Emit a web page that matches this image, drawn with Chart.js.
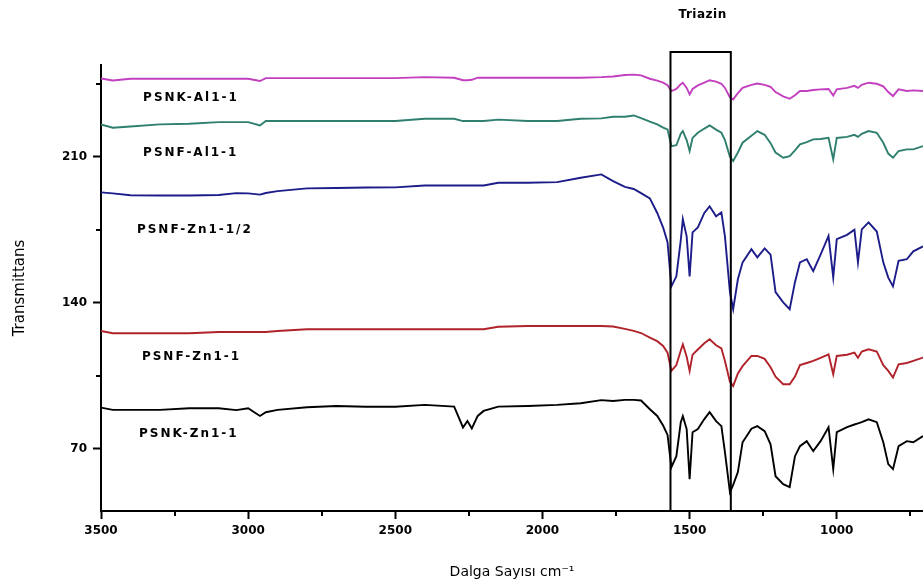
<!DOCTYPE html>
<html>
<head>
<meta charset="utf-8">
<script src="https://cdn.jsdelivr.net/npm/chart.js@4.4.1/dist/chart.umd.min.js"></script>
<style>
  html, body { margin: 0; padding: 0; background: #fff; overflow: hidden; }
  #chart { display: block; }
</style>
</head>
<body>
<canvas id="chart" width="923" height="588"></canvas>
<script>
// wavenumbers (cm-1), shared by every spectrum
var wavenumbers = [
  3500, 3460, 3400, 3300, 3200, 3100, 3040, 3000, 2960, 2940, 2900, 2800, 2700, 2600, 2500, 2400, 2300,
  2270, 2255, 2240, 2220, 2200, 2150, 2050, 1950, 1870, 1800, 1760, 1720, 1690, 1665, 1635, 1610, 1590, 1575,
  1562, 1545, 1530, 1523, 1510, 1500, 1490, 1472, 1450, 1432, 1410, 1392, 1380, 1363, 1352, 1336, 1320,
  1290, 1270, 1245, 1225, 1208, 1182, 1160, 1142, 1125, 1102, 1080, 1055, 1028, 1012, 1000, 965, 940,
  928, 915, 892, 864, 842, 825, 809, 790, 762, 740, 707
];

var psnkAl = [
  247.5, 246.6, 247.4, 247.4, 247.4, 247.4, 247.4, 247.4, 246.3, 247.7, 247.7, 247.7, 247.7, 247.7, 247.7, 248.2, 247.9,
  246.7, 246.7, 246.9, 247.9, 247.9, 247.9, 247.9, 247.9, 247.9, 248.2, 248.5, 249.2, 249.4, 249, 247.4, 246.5, 245.5, 244.3,
  241.5, 242.5, 244.8, 245.5, 243, 239.9, 242.5, 244.2, 245.5, 246.7, 246, 245, 243, 238.5, 237.5, 240.5, 243,
  244.5, 245.1, 244.5, 243.5, 241, 239, 237.8, 239.5, 241.5, 241.5, 242, 242.3, 242.5, 239.4, 242.3, 243, 244,
  243, 244.5, 245.5, 245, 243.8, 241, 239.1, 242.3, 241.5, 241.8, 241.5
];

var psnfAl = [
  225.5, 223.9, 224.5, 225.5, 225.8, 226.6, 226.6, 226.6, 225, 227.1, 227.1, 227.1, 227.1, 227.1, 227.1, 228.2, 228.2,
  227.1, 227.1, 227.1, 227.1, 227.1, 227.8, 227.1, 227.1, 228.2, 228.4, 229.2, 229.2, 229.8, 228.5, 226.8, 225.5, 224, 223.1,
  215.1, 215.5, 221, 222.3, 218, 212.7, 219, 221.5, 223.5, 225, 223, 221.5, 218, 210, 207.9, 212, 216.7,
  220, 222.3, 220.5, 216.5, 212, 209.5, 210.3, 213, 215.9, 217, 218.3, 218.5, 219.1, 208.7, 219, 219.5, 220.5,
  219.5, 221, 222.3, 221.5, 216.7, 211.5, 209.5, 212.7, 213.5, 213.5, 215.1
];

var psnfZnHalf = [
  192.9, 192.4, 191.5, 191.4, 191.4, 191.6, 192.5, 192.4, 191.8, 192.6, 193.5, 194.8, 195, 195.2, 195.3, 196.2, 196.2,
  196.2, 196.2, 196.2, 196.2, 196.2, 197.5, 197.5, 197.8, 199.9, 201.5, 198.3, 195.5, 194.5, 192.5, 190, 183, 176, 169,
  147.8, 152.6, 170, 180, 171.8, 152.6, 173.7, 176.1, 183, 186.2, 181.4, 183.3, 171.8, 145, 136.8, 151.2, 159.3,
  165.6, 161.7, 166, 163, 145, 140.1, 136.8, 149.8, 159.3, 160.8, 155.1, 163, 172, 152.1, 170.4, 172.5, 175,
  159.3, 175.1, 178.5, 174.1, 159.3, 152, 147.8, 160, 160.8, 164.6, 167
];

var psnfZn = [
  126.4, 125.3, 125.3, 125.3, 125.3, 125.9, 125.9, 125.9, 125.9, 125.9, 126.4, 127.2, 127.2, 127.2, 127.2, 127.2, 127.2,
  127.2, 127.2, 127.2, 127.2, 127.2, 128.4, 128.8, 128.8, 128.8, 128.8, 128.5, 127.4, 126.4, 125.4, 123.2, 121.5, 119.2, 116,
  107.2, 110, 117, 120, 114, 107.2, 115, 117.5, 120.5, 122.4, 119.5, 118, 112, 102, 100, 106, 109.5,
  114.4, 114.4, 113, 109, 104.5, 100.8, 100.8, 104.5, 110, 111, 112, 113.5, 115.2, 105.6, 114.4, 115, 116,
  113.5, 116.5, 117.6, 116.5, 110, 107.2, 104, 110.4, 111, 112, 113.6
];

var psnkZn = [
  89.6, 88.5, 88.5, 88.5, 89.3, 89.3, 88.4, 89.3, 85.6, 87.4, 88.5, 89.8, 90.4, 90, 90, 90.9, 90.1,
  80.1, 83.2, 79.6, 85.6, 88, 90.1, 90.4, 90.9, 91.7, 93.2, 92.8, 93.3, 93.3, 93, 88.8, 85.6, 81, 76.5,
  61, 66.3, 82.6, 85.5, 79.3, 55.3, 77.8, 79.3, 84.1, 87.4, 83.1, 80.7, 68.2, 49, 52.5, 58.7, 73,
  79.5, 80.7, 78.3, 72, 56.7, 52.9, 51.5, 66.3, 71.1, 73.5, 68.7, 73.5, 80.2, 60.1, 77.8, 80.2, 81.5,
  82, 82.6, 84, 82.6, 73, 62.5, 60.1, 71.1, 73.5, 73, 75.9
];

var seriesNames = ['PSNK-Al1-1', 'PSNF-Al1-1', 'PSNF-Zn1-1/2', 'PSNF-Zn1-1', 'PSNK-Zn1-1'];
var seriesColors = ['#c23fc0', '#2f7f6f', '#1c1c8a', '#b0232a', '#000000'];

var xTicks = [3500, 3250, 3000, 2750, 2500, 2250, 2000, 1750, 1500, 1250, 1000, 750];
var xTickLabels = [3500, 3000, 2500, 2000, 1500, 1000];
var yTicks = [70, 105, 140, 175, 210, 245];
var yTickLabels = [70, 140, 210];

var triazinBand = [1565, 1360];

function points(values) {
  return wavenumbers.map(function (w, i) { return { x: w, y: values[i] }; });
}

var allSeries = [psnkAl, psnfAl, psnfZnHalf, psnfZn, psnkZn];

// where each curve name is written (wavenumber, transmittance)
var nameAt = [[3357, 238], [3357, 212], [3378, 175], [3361, 114], [3371, 77]];

var extras = {
  id: 'extras',
  afterDraw: function (chart) {
    var ctx = chart.ctx;
    var xs = chart.scales.x, ys = chart.scales.y;
    ctx.save();

    // minor ticks
    ctx.strokeStyle = '#000';
    ctx.lineWidth = 2;
    xTicks.forEach(function (v) {
      if (xTickLabels.indexOf(v) >= 0) return;
      var px = Math.round(xs.getPixelForValue(v));
      ctx.beginPath();
      ctx.moveTo(px, ys.bottom);
      ctx.lineTo(px, ys.bottom + 5);
      ctx.stroke();
    });
    yTicks.forEach(function (v) {
      if (yTickLabels.indexOf(v) >= 0) return;
      var py = Math.round(ys.getPixelForValue(v));
      ctx.beginPath();
      ctx.moveTo(xs.left, py);
      ctx.lineTo(xs.left - 5, py);
      ctx.stroke();
    });

    // triazin box
    var l = xs.getPixelForValue(triazinBand[0]);
    var r = xs.getPixelForValue(triazinBand[1]);
    var top = ys.top - 13;
    ctx.lineWidth = 2;
    ctx.beginPath();
    ctx.moveTo(l, ys.bottom);
    ctx.lineTo(l, top);
    ctx.lineTo(r, top);
    ctx.lineTo(r, ys.bottom);
    ctx.stroke();

    ctx.fillStyle = '#000';
    ctx.textAlign = 'center';
    ctx.textBaseline = 'middle';
    ctx.font = 'bold 12px "DejaVu Sans"';
    ctx.letterSpacing = '0.5px';
    ctx.fillText('Triazin', (l + r) / 2 + 2, 15);

    // curve names
    ctx.textAlign = 'left';
    ctx.font = 'bold 12px "DejaVu Sans"';
    ctx.letterSpacing = '2px';
    seriesNames.forEach(function (name, i) {
      ctx.fillText(name, xs.getPixelForValue(nameAt[i][0]), ys.getPixelForValue(nameAt[i][1]));
    });
    ctx.restore();
  }
};

var ctx = document.getElementById('chart');
new Chart(ctx, {
  type: 'line',
  data: {
    datasets: allSeries.map(function (s, i) {
      return {
        label: seriesNames[i],
        data: points(s),
        borderColor: seriesColors[i],
        borderWidth: 1.9,
        pointRadius: 0,
        tension: 0,
        fill: false
      };
    })
  },
  options: {
    responsive: false,
    animation: false,
    layout: { padding: { top: 65, right: 0, bottom: 0, left: 0 } },
    plugins: {
      legend: { display: false },
      tooltip: { enabled: false }
    },
    scales: {
      x: {
        type: 'linear',
        reverse: true,
        min: 707,
        max: 3500,
        afterFit: function (scale) { scale.height = 77; },
        afterBuildTicks: function (scale) {
          scale.ticks = xTicks.map(function (v) { return { value: v }; });
        },
        border: { display: true, color: '#000', width: 2 },
        grid: {
          drawOnChartArea: false,
          tickLength: 8,
          tickWidth: 2,
          tickColor: function (c) {
            return c.tick && xTickLabels.indexOf(c.tick.value) >= 0 ? '#000' : 'rgba(0,0,0,0)';
          }
        },
        ticks: {
          autoSkip: false,
          maxRotation: 0,
          padding: 5,
          color: '#000',
          font: { family: 'DejaVu Sans', size: 12, weight: 'bold' },
          callback: function (v) { return xTickLabels.indexOf(v) >= 0 ? String(v) : ''; }
        },
        title: {
          display: true,
          text: 'Dalga Sayısı cm⁻¹',
          color: '#000',
          padding: { top: 0, bottom: 7 },
          font: { family: 'DejaVu Sans', size: 14 }
        }
      },
      y: {
        type: 'linear',
        min: 40,
        max: 254,
        afterFit: function (scale) { scale.width = 101; },
        afterBuildTicks: function (scale) {
          scale.ticks = yTicks.map(function (v) { return { value: v }; });
        },
        border: { display: true, color: '#000', width: 2 },
        grid: {
          drawOnChartArea: false,
          tickLength: 8,
          tickWidth: 2,
          tickColor: function (c) {
            return c.tick && yTickLabels.indexOf(c.tick.value) >= 0 ? '#000' : 'rgba(0,0,0,0)';
          }
        },
        ticks: {
          autoSkip: false,
          padding: 6,
          color: '#000',
          font: { family: 'DejaVu Sans', size: 12, weight: 'bold' },
          callback: function (v) { return yTickLabels.indexOf(v) >= 0 ? String(v) : ''; }
        },
        title: {
          display: true,
          text: 'Transmittans',
          color: '#000',
          padding: { top: 11, bottom: 0 },
          font: { family: 'DejaVu Sans', size: 15 }
        }
      }
    }
  },
  plugins: [extras]
});
</script>
</body>
</html>
